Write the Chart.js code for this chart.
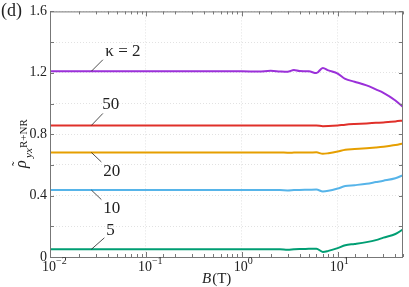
<!DOCTYPE html>
<html>
<head>
<meta charset="utf-8">
<script src="https://cdn.jsdelivr.net/npm/chart.js@4/dist/chart.umd.min.js"></script>
<style>
  html, body { margin: 0; padding: 0; background: #fff; }
  #wrap { width: 409px; height: 287px; position: relative; }
</style>
</head>
<body>
<div id="wrap"><canvas id="myChart"></canvas></div>
<script>
// data
const campoB = [0.01, 0.03, 0.1, 0.3, 1, 1.5, 2, 2.5, 3, 3.5, 4, 5, 6, 7, 8, 10, 12, 15, 20, 25, 30, 40, 48];
const kappa2  = [1.21, 1.21, 1.21, 1.21, 1.21, 1.208, 1.213, 1.209, 1.207, 1.218, 1.211, 1.21, 1.198, 1.232, 1.216, 1.195, 1.16, 1.142, 1.118, 1.092, 1.07, 1.02, 0.978];
const kappa50 = [0.857, 0.857, 0.857, 0.857, 0.857, 0.857, 0.857, 0.856, 0.857, 0.857, 0.857, 0.857, 0.857, 0.852, 0.853, 0.857, 0.862, 0.866, 0.87, 0.874, 0.877, 0.883, 0.889];
const kappa20 = [0.681, 0.681, 0.681, 0.681, 0.681, 0.681, 0.68, 0.681, 0.679, 0.68, 0.681, 0.681, 0.682, 0.672, 0.676, 0.687, 0.699, 0.703, 0.708, 0.713, 0.718, 0.729, 0.74];
const kappa10 = [0.436, 0.436, 0.436, 0.436, 0.436, 0.436, 0.436, 0.436, 0.434, 0.436, 0.437, 0.438, 0.439, 0.427, 0.431, 0.446, 0.462, 0.468, 0.477, 0.488, 0.497, 0.513, 0.533];
const kappa5  = [0.05, 0.05, 0.05, 0.05, 0.05, 0.05, 0.05, 0.05, 0.047, 0.05, 0.052, 0.053, 0.054, 0.033, 0.04, 0.058, 0.077, 0.085, 0.097, 0.11, 0.126, 0.15, 0.18];
const rotulos = ['κ = 2', '50', '20', '10', '5'];
const decadas = [0.01, 0.1, 1, 10];
const expoentes = ['−2', '−1', '0', '1'];
const ticksY = [0, 0.2, 0.4, 0.6, 0.8, 1.0, 1.2, 1.4, 1.6];

const cores = ['#9b30d9', '#e0302a', '#e69f00', '#56b4e9', '#009e73'];
const series = [kappa2, kappa50, kappa20, kappa10, kappa5];
const bRotulo = 0.027; // onde saem as setinhas
// deslocamentos (px) da setinha e do texto, por curva
const desloc = [
  { dx: 11.5, dy: -11.5, tx: 14, ty: -20 },
  { dx: 11.5, dy: -12, tx: 11, ty: -21 },
  { dx: 10, dy: 9.5, tx: 12, ty: 19 },
  { dx: 10, dy: 9.5, tx: 12, ty: 18 },
  { dx: 13, dy: -11.5, tx: 15, ty: -19 }
];

const serif = "'Times New Roman', 'Liberation Serif', Times, serif";

function ehDecada(v) {
  const l = Math.log10(v);
  return Math.abs(l - Math.round(l)) < 1e-6;
}

const extras = {
  id: 'extras',
  afterDraw(chart) {
    const ctx = chart.ctx;
    const a = chart.chartArea;
    const sx = chart.scales.x, sy = chart.scales.y;
    ctx.save();

    // moldura
    ctx.strokeStyle = '#777';
    ctx.lineWidth = 1;
    ctx.strokeRect(a.left + 0.5, a.top + 0.5, a.right - a.left - 1, a.bottom - a.top);

    // ticks pra dentro, nos quatro lados
    ctx.beginPath();
    ticksY.forEach(v => {
      const y = Math.round(sy.getPixelForValue(v)) + 0.5;
      ctx.moveTo(a.left, y); ctx.lineTo(a.left + 4, y);
      ctx.moveTo(a.right, y); ctx.lineTo(a.right - 4, y);
    });
    sx.ticks.forEach(t => {
      const x = Math.round(sx.getPixelForValue(t.value)) + 0.5;
      const len = ehDecada(t.value) ? 5 : 3;
      ctx.moveTo(x, a.bottom); ctx.lineTo(x, a.bottom - len);
      ctx.moveTo(x, a.top); ctx.lineTo(x, a.top + len);
    });
    ctx.stroke();

    // rotulos do eixo x com expoente
    ctx.fillStyle = '#222';
    ctx.textBaseline = 'alphabetic';
    decadas.forEach((v, i) => {
      const x = sx.getPixelForValue(v);
      ctx.font = '14px ' + serif;
      ctx.textAlign = 'center';
      ctx.fillText('10', x - 1, 271);
      const w = ctx.measureText('10').width;
      ctx.font = '10px ' + serif;
      ctx.textAlign = 'left';
      ctx.fillText(expoentes[i], x - 1 + w / 2, 264);
    });

    // titulo do eixo x
    ctx.font = 'italic 15px ' + serif;
    ctx.textAlign = 'left';
    ctx.fillText('B', 202, 283);
    let wB = ctx.measureText('B').width;
    ctx.font = '15px ' + serif;
    ctx.fillText('(T)', 202 + wB + 1, 283);

    // titulo do eixo y (girado)
    ctx.save();
    ctx.translate(26, 168);
    ctx.rotate(-Math.PI / 2);
    ctx.textAlign = 'left';
    ctx.font = 'italic 16px ' + serif;
    ctx.fillText('ρ', 0, 0);
    ctx.font = '14px ' + serif;
    ctx.fillText('˜', 2, -4);
    ctx.font = 'italic 11px ' + serif;
    ctx.fillText('yx', 10, 6);
    ctx.font = '11px ' + serif;
    ctx.fillText('R+NR', 20, 1);
    ctx.restore();

    // (d)
    ctx.font = '18px ' + serif;
    ctx.textAlign = 'left';
    ctx.fillText('(d)', 1, 16);

    // rotulos das curvas
    ctx.strokeStyle = '#222';
    ctx.lineWidth = 0.8;
    ctx.font = '17px ' + serif;
    ctx.textBaseline = 'middle';
    series.forEach((s, i) => {
      const x0 = sx.getPixelForValue(bRotulo);
      const y0 = sy.getPixelForValue(s[0]);
      const d = desloc[i];
      ctx.beginPath();
      ctx.moveTo(x0, y0);
      ctx.lineTo(x0 + d.dx, y0 + d.dy);
      ctx.stroke();
      ctx.fillText(rotulos[i], x0 + d.tx, y0 + d.ty);
    });

    ctx.restore();
  }
};

function MontaDatasets() {
  return series.map((s, i) => ({
    label: rotulos[i],
    data: campoB.map((b, j) => ({ x: b, y: s[j] })),
    borderColor: cores[i],
    backgroundColor: cores[i],
    borderWidth: 2,
    pointRadius: 0,
    tension: 0.15,
    cubicInterpolationMode: 'monotone'
  }));
}

const ctxCanvas = document.getElementById('myChart');
new Chart(ctxCanvas, {
  type: 'line',
  data: { datasets: MontaDatasets() },
  options: {
    responsive: true,
    maintainAspectRatio: false,
    animation: false,
    layout: { padding: { top: 11, right: 6, left: 0, bottom: 0 } },
    plugins: { legend: { display: false }, tooltip: { enabled: false } },
    scales: {
      x: {
        type: 'logarithmic',
        min: 0.01,
        max: 48,
        afterFit: s => { s.height = 30; },
        grid: {
          drawTicks: false,
          color: c => (c.tick && ehDecada(c.tick.value)) ? '#e2e2e2' : 'rgba(0,0,0,0)',
          lineWidth: 1
        },
        border: { display: false, dash: [1, 2] },
        ticks: { display: false }
      },
      y: {
        min: 0,
        max: 1.6,
        afterFit: s => { s.width = 50; },
        afterBuildTicks: s => { s.ticks = ticksY.map(v => ({ value: v })); },
        grid: { drawTicks: false, color: '#e2e2e2', lineWidth: 1 },
        border: { display: false, dash: [1, 2] },
        ticks: {
          padding: 3,
          color: '#222',
          font: { family: serif, size: 14 },
          callback: v => {
            const r = Math.round(v * 10) / 10;
            if (Math.round(r * 10) % 4 !== 0) return '';
            return r === 0 ? '0' : r.toFixed(1);
          }
        }
      }
    }
  },
  plugins: [extras]
});
</script>
</body>
</html>
